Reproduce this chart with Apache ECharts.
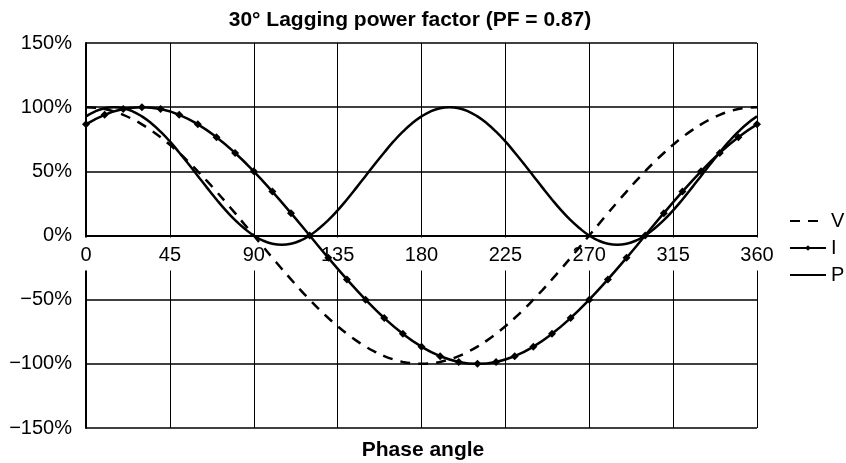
<!DOCTYPE html>
<html>
<head>
<meta charset="utf-8">
<script src="https://cdn.jsdelivr.net/npm/echarts@6/dist/echarts.min.js"></script>
<style>
html,body{margin:0;padding:0;background:#fff;}
#c{width:846px;height:463px;}
</style>
</head>
<body>
<div id="c"></div>
<script>
// Phase angles (degrees)
var angles5 = [0,5,10,15,20,25,30,35,40,45,50,55,60,65,70,75,80,85,90,95,100,105,110,115,120,125,130,135,140,145,150,155,160,165,170,175,180,185,190,195,200,205,210,215,220,225,230,235,240,245,250,255,260,265,270,275,280,285,290,295,300,305,310,315,320,325,330,335,340,345,350,355,360];
var angles10 = [0,10,20,30,40,50,60,70,80,90,100,110,120,130,140,150,160,170,180,190,200,210,220,230,240,250,260,270,280,290,300,310,320,330,340,350,360];

// Voltage (%), read at 5° steps
var vValues = [100,99.6,98.5,96.6,94,90.6,86.6,81.9,76.6,70.7,64.3,57.4,50,42.3,34.2,25.9,17.4,8.7,0,-8.7,-17.4,-25.9,-34.2,-42.3,-50,-57.4,-64.3,-70.7,-76.6,-81.9,-86.6,-90.6,-94,-96.6,-98.5,-99.6,-100,-99.6,-98.5,-96.6,-94,-90.6,-86.6,-81.9,-76.6,-70.7,-64.3,-57.4,-50,-42.3,-34.2,-25.9,-17.4,-8.7,0,8.7,17.4,25.9,34.2,42.3,50,57.4,64.3,70.7,76.6,81.9,86.6,90.6,94,96.6,98.5,99.6,100];

// Current (%), read at the 10° markers
var iValues = [86.6,94,98.5,100,98.5,94,86.6,76.6,64.3,50,34.2,17.4,0,-17.4,-34.2,-50,-64.3,-76.6,-86.6,-94,-98.5,-100,-98.5,-94,-86.6,-76.6,-64.3,-50,-34.2,-17.4,0,17.4,34.2,50,64.3,76.6,86.6];

// Power (%), read at 5° steps
var pValues = [92.8,96.8,99.2,100,99.2,96.8,92.8,87.5,80.9,73.3,64.7,55.7,46.4,37.1,28.1,19.6,11.9,5.4,0,-4,-6.4,-7.2,-6.4,-4,0,5.4,11.9,19.6,28.1,37.1,46.4,55.7,64.7,73.3,80.9,87.5,92.8,96.8,99.2,100,99.2,96.8,92.8,87.5,80.9,73.3,64.7,55.7,46.4,37.1,28.1,19.6,11.9,5.4,0,-4,-6.4,-7.2,-6.4,-4,0,5.4,11.9,19.6,28.1,37.1,46.4,55.7,64.7,73.3,80.9,87.5,92.8];

var xTicks = [0,45,90,135,180,225,270,315,360];
var yTickLabels = {'150':'150%','100':'100%','50':'50%','0':'0%','-50':'\u221250%','-100':'\u2212100%','-150':'\u2212150%'};

var titleText = '30\u00b0 Lagging power factor (PF = 0.87)';
var xName = 'Phase angle';
var seriesNames = ['V','I','P'];

function pairs(xs, ys){ return xs.map(function(x,i){ return [x, ys[i]]; }); }

var FONT = '"Liberation Sans", Arial, Helvetica, sans-serif';
var GRID_TOP = 43, GRID_BOTTOM = 35, H = 463;
var plotH = H - GRID_TOP - GRID_BOTTOM;
var zeroOffset = -plotH / 2; // move x axis from bottom to the 0% line

var chart = echarts.init(document.getElementById('c'), null, {renderer:'canvas'});
chart.setOption({
  animation:false,
  backgroundColor:'#fff',
  title:[
    {text:titleText, left:410, top:10, padding:0, textAlign:'center',
     textStyle:{fontFamily:FONT, fontWeight:'bold', fontSize:21, color:'#000'}},
    {text:xName, left:423, top:440, padding:0, textAlign:'center',
     textStyle:{fontFamily:FONT, fontWeight:'bold', fontSize:21, color:'#000'}}
  ],
  grid:{left:86, right:89, top:GRID_TOP, bottom:GRID_BOTTOM, containLabel:false},
  legend:{
    orient:'vertical', left:789, top:211, padding:0, itemWidth:36, itemHeight:7, itemGap:7,
    data:[{name:'V', itemStyle:{opacity:0}}, {name:'I'}, {name:'P', itemStyle:{opacity:0}}],
    textStyle:{fontFamily:FONT, fontSize:20, color:'#000'},
    itemStyle:{color:'#000'}
  },
  xAxis:{
    type:'value', min:0, max:360, interval:45, z:3, position:'bottom', offset:zeroOffset,
    axisLine:{show:true, onZero:false, lineStyle:{color:'#000', width:2}},
    axisTick:{show:false},
    splitLine:{show:true, lineStyle:{color:'#000', width:1}},
    axisLabel:{
      show:true, margin:2, fontFamily:FONT, fontSize:20, color:'#000',
      backgroundColor:'#fff', padding:[8,3,5,3],
      showMinLabel:true, showMaxLabel:true,
      formatter:function(v){ return String(v); }
    }
  },
  yAxis:{
    type:'value', min:-150, max:150, interval:50,
    axisLine:{show:true, onZero:false, lineStyle:{color:'#000', width:2}},
    axisTick:{show:false},
    splitLine:{show:true, lineStyle:{color:'#000', width:1.5}},
    axisLabel:{margin:14, fontFamily:FONT, fontSize:20, color:'#000',
      formatter:function(v){ return yTickLabels[String(v)]; }}
  },
  series:[
    {name:'V', type:'line', data:pairs(angles5, vValues), smooth:true, symbol:'none',
     lineStyle:{color:'#000', width:2.5, type:[10,8]}, itemStyle:{color:'#000'}},
    {name:'I', type:'line', data:pairs(angles10, iValues), smooth:true, symbol:'diamond', symbolSize:8,
     showSymbol:true, lineStyle:{color:'#000', width:2.5}, itemStyle:{color:'#000'}},
    {name:'P', type:'line', data:pairs(angles5, pValues), smooth:true, symbol:'none',
     lineStyle:{color:'#000', width:2.5}, itemStyle:{color:'#000'}}
  ]
});
</script>
</body>
</html>
